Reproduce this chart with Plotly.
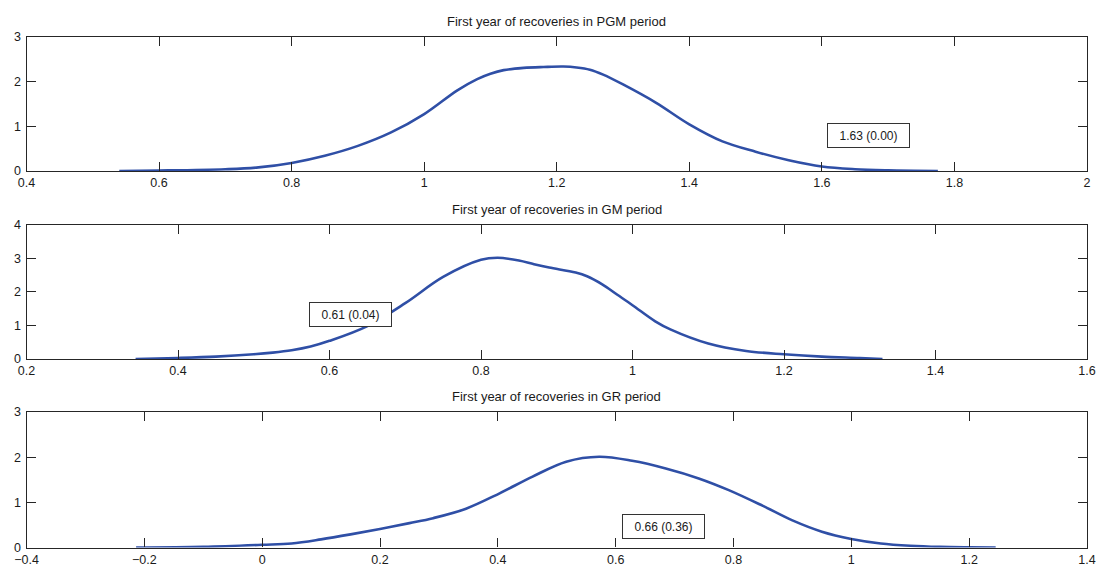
import plotly.graph_objects as go

# ---------------- data ----------------
pgm_x = [0.54, 0.60, 0.70, 0.75, 0.80, 0.85, 0.90, 0.95, 1.00, 1.05, 1.08, 1.10, 1.12, 1.15,
         1.18, 1.21, 1.23, 1.25, 1.27, 1.30, 1.35, 1.40, 1.45, 1.50, 1.55, 1.60, 1.65, 1.70, 1.775]
pgm_y = [0.0, 0.01, 0.04, 0.08, 0.18, 0.34, 0.56, 0.86, 1.27, 1.80, 2.05, 2.17, 2.25, 2.30,
         2.32, 2.33, 2.31, 2.26, 2.15, 1.93, 1.52, 1.04, 0.66, 0.43, 0.24, 0.10, 0.04, 0.015, 0.0]

gm_x = [0.344, 0.40, 0.45, 0.50, 0.525, 0.55, 0.575, 0.60, 0.65, 0.70, 0.75, 0.80, 0.822, 0.85,
        0.87, 0.89, 0.925, 0.94, 0.96, 0.98, 1.00, 1.03, 1.05, 1.10, 1.15, 1.20, 1.25, 1.30, 1.33]
gm_y = [0.0, 0.03, 0.07, 0.14, 0.19, 0.26, 0.37, 0.54, 0.98, 1.66, 2.44, 2.95, 3.01, 2.93,
        2.82, 2.72, 2.57, 2.46, 2.22, 1.91, 1.60, 1.12, 0.88, 0.46, 0.24, 0.14, 0.07, 0.03, 0.0]

gr_x = [-0.214, -0.10, 0.0, 0.05, 0.10, 0.15, 0.20, 0.25, 0.29, 0.346, 0.403, 0.459, 0.516,
        0.572, 0.628, 0.685, 0.741, 0.792, 0.85, 0.90, 0.95, 1.00, 1.05, 1.10, 1.15, 1.20, 1.245]
gr_y = [0.0, 0.015, 0.06, 0.09, 0.18, 0.29, 0.41, 0.54, 0.65, 0.86, 1.20, 1.57, 1.90,
        2.01, 1.92, 1.75, 1.53, 1.27, 0.92, 0.60, 0.35, 0.19, 0.09, 0.04, 0.015, 0.005, 0.0]

titles = ["First year of recoveries in PGM period",
          "First year of recoveries in GM period",
          "First year of recoveries in GR period"]
box_labels = ["1.63 (0.00)", "0.61 (0.04)", "0.66 (0.36)"]
box_x = [1.608, 0.573, 0.611]   # left edge of label box (data units)
box_y = [1.066, 1.70, 0.746]    # top edge of label box (data units)

x_ticks_1 = [0.4, 0.6, 0.8, 1.0, 1.2, 1.4, 1.6, 1.8, 2.0]
x_text_1 = ["0.4", "0.6", "0.8", "1", "1.2", "1.4", "1.6", "1.8", "2"]
x_ticks_2 = [0.2, 0.4, 0.6, 0.8, 1.0, 1.2, 1.4, 1.6]
x_text_2 = ["0.2", "0.4", "0.6", "0.8", "1", "1.2", "1.4", "1.6"]
x_ticks_3 = [-0.4, -0.2, 0.0, 0.2, 0.4, 0.6, 0.8, 1.0, 1.2, 1.4]
x_text_3 = ["\u22120.4", "\u22120.2", "0", "0.2", "0.4", "0.6", "0.8", "1", "1.2", "1.4"]
y_ticks_1 = [0, 1, 2, 3]
y_ticks_2 = [0, 1, 2, 3, 4]
y_ticks_3 = [0, 1, 2, 3]

# ---------------- figure ----------------
W, H = 1099, 568
FONT = "Arial, Liberation Sans, Helvetica, sans-serif"
LINE = "#2f4fa6"
AX = "#262626"

panels = [
    dict(x=pgm_x, y=pgm_y, xr=[0.4, 2.0], yr=[0, 3], xt=x_ticks_1, xtt=x_text_1, yt=y_ticks_1,
         top=36.5, bot=171),
    dict(x=gm_x, y=gm_y, xr=[0.2, 1.6], yr=[0, 4], xt=x_ticks_2, xtt=x_text_2, yt=y_ticks_2,
         top=224.5, bot=359),
    dict(x=gr_x, y=gr_y, xr=[-0.4, 1.4], yr=[0, 3], xt=x_ticks_3, xtt=x_text_3, yt=y_ticks_3,
         top=412, bot=547.5),
]
left_px, right_px = 26.5, 1087

fig = go.Figure()
layout = dict(
    width=W, height=H, margin=dict(l=0, r=0, t=0, b=0),
    paper_bgcolor="white", plot_bgcolor="white", showlegend=False,
    font=dict(family=FONT, size=12, color="#1a1a1a"),
    annotations=[],
)

for i, p in enumerate(panels):
    n = "" if i == 0 else str(i + 1)
    fig.add_trace(go.Scatter(x=p["x"], y=p["y"], mode="lines",
                             line=dict(color=LINE, width=2.6, shape="spline", smoothing=1.0),
                             xaxis="x" + n, yaxis="y" + n, hoverinfo="skip"))
    common = dict(showline=True, linecolor=AX, linewidth=1.3, mirror="ticks",
                  ticks="inside", ticklen=9, tickwidth=1, tickcolor=AX,
                  showgrid=False, zeroline=False, automargin=False,
                  tickfont=dict(family=FONT, size=12.5, color="#1a1a1a"))
    layout["xaxis" + n] = dict(common, range=p["xr"], tickvals=p["xt"], ticktext=p["xtt"],
                               domain=[left_px / W, right_px / W],
                               anchor="y" + n)
    layout["yaxis" + n] = dict(common, range=p["yr"], tickvals=p["yt"],
                               ticktext=[str(v) for v in p["yt"]],
                               domain=[1 - p["bot"] / H, 1 - p["top"] / H],
                               anchor="x" + n, ticklabelstandoff=2)
    layout["annotations"].append(dict(
        text=titles[i], xref="paper", yref="paper",
        x=(left_px + right_px) / 2 / W, y=1 - p["top"] / H,
        xanchor="center", yanchor="bottom", yshift=6, showarrow=False,
        font=dict(family=FONT, size=13, color="#1a1a1a")))
    layout["annotations"].append(dict(
        text=box_labels[i], xref="x" + n, yref="y" + n,
        x=box_x[i], y=box_y[i], xanchor="left", yanchor="top", showarrow=False,
        bordercolor="#333333", borderwidth=1, borderpad=1, bgcolor="white",
        width=79, height=21, align="center",
        font=dict(family=FONT, size=12, color="#1a1a1a")))

fig.update_layout(**layout)
fig.write_html("out.html")
